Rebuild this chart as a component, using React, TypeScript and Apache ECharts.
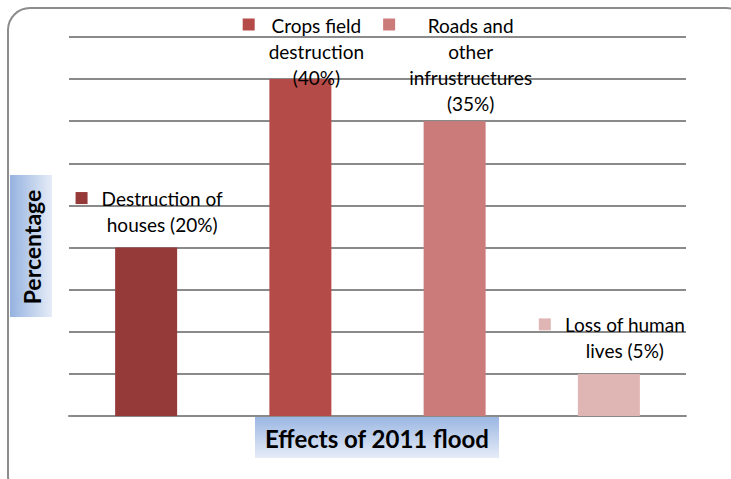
import React, { useEffect, useRef } from "react";
import * as echarts from "echarts";

const categories = [
  "Destruction of houses",
  "Crops field destruction",
  "Roads and other infrustructures",
  "Loss of human lives",
];
const values = [20, 40, 35, 5];
const labelLines = [
  ["Destruction of", "houses (20%)"],
  ["Crops field", "destruction", "(40%)"],
  ["Roads and", "other", "infrustructures", "(35%)"],
  ["Loss of human", "lives (5%)"],
];
const barColors = ["#953A38", "#B54B48", "#CB7C7A", "#E0B6B5"];
const yTitle = "Percentage";
const xTitle = "Effects of 2011 flood";

const FONT = "Lato, 'Open Sans', sans-serif";
const LABEL_SIZE = 19;
const LINE_H = 26;

function measure(text: string, font: string): number {
  const c = document.createElement("canvas");
  const ctx = c.getContext("2d")!;
  ctx.font = font;
  return ctx.measureText(text).width;
}

export default function App() {
  const ref = useRef<HTMLDivElement>(null);
  useEffect(() => {
    if (!ref.current) return;
    const chart = echarts.init(ref.current, undefined, { renderer: "svg" });
    chart.setOption({
      animation: false,
      backgroundColor: "#ffffff",
      grid: { left: 69, right: 45, top: 37, bottom: 63 },
      xAxis: {
        type: "category",
        data: categories,
        axisLine: { show: true, lineStyle: { color: "#8a8a8a", width: 2 } },
        axisTick: { show: false },
        axisLabel: { show: false },
      },
      yAxis: {
        type: "value",
        min: 0,
        max: 45,
        interval: 5,
        axisLine: { show: false },
        axisTick: { show: false },
        axisLabel: { show: false },
        splitLine: { lineStyle: { color: "#8a8a8a", width: 2 } },
      },
      series: [
        {
          type: "bar",
          barWidth: 62,
          data: values.map((v, i) => ({ value: v, itemStyle: { color: barColors[i] } })),
        },
      ],
    });

    const graphics: any[] = [];
    const labelFont = `${LABEL_SIZE}px ${FONT}`;
    values.forEach((v, i) => {
      const [px, py] = chart.convertToPixel({ seriesIndex: 0 }, [i, v]) as number[];
      const lines = labelLines[i];
      const cx = px + 16;
      let first = py - 23 - (lines.length - 1) * LINE_H;
      if (first < 25) first = 25;
      const maxW = Math.max(...lines.map((l) => measure(l, labelFont)));
      lines.forEach((l, k) => {
        graphics.push({
          type: "text",
          x: cx,
          y: first + k * LINE_H,
          z: 100,
          style: {
            text: l,
            fill: "#000000",
            font: labelFont,
            textAlign: "center",
            textVerticalAlign: "middle",
          },
        });
      });
      graphics.push({
        type: "rect",
        z: 100,
        shape: { x: cx - maxW / 2 - 14 - 12, y: first - 6.5, width: 12, height: 12 },
        style: { fill: barColors[i] },
      });
    });

    // outer rounded border
    graphics.push({
      type: "rect",
      z: 1,
      shape: { x: 8, y: 8, width: 740, height: 490, r: 22 },
      style: { fill: "none", stroke: "#8c8c8c", lineWidth: 2 },
    });

    // y title box
    graphics.push({
      type: "rect",
      z: 50,
      shape: { x: 10, y: 175, width: 42, height: 142 },
      style: {
        fill: new echarts.graphic.LinearGradient(0, 0, 1, 0, [
          { offset: 0, color: "#95B3E0" },
          { offset: 1, color: "#E6ECF7" },
        ]),
      },
    });
    graphics.push({
      type: "text",
      z: 60,
      x: 32,
      y: 247,
      rotation: Math.PI / 2,
      style: {
        text: yTitle,
        fill: "#000000",
        font: `bold 23px ${FONT}`,
        textAlign: "center",
        textVerticalAlign: "middle",
      },
    });

    // x title box
    graphics.push({
      type: "rect",
      z: 50,
      shape: { x: 255, y: 417, width: 244, height: 41 },
      style: {
        fill: new echarts.graphic.LinearGradient(0, 0, 0, 1, [
          { offset: 0, color: "#9BB7E3" },
          { offset: 1, color: "#E6ECF7" },
        ]),
      },
    });
    graphics.push({
      type: "text",
      z: 60,
      x: 377,
      y: 438,
      style: {
        text: xTitle,
        fill: "#000000",
        font: `bold 24px ${FONT}`,
        textAlign: "center",
        textVerticalAlign: "middle",
      },
    });

    chart.setOption({ graphic: graphics });
    return () => chart.dispose();
  }, []);
  return (
    <div
      ref={ref}
      style={{ position: "fixed", left: 0, top: 0, width: 731, height: 479 }}
    />
  );
}
